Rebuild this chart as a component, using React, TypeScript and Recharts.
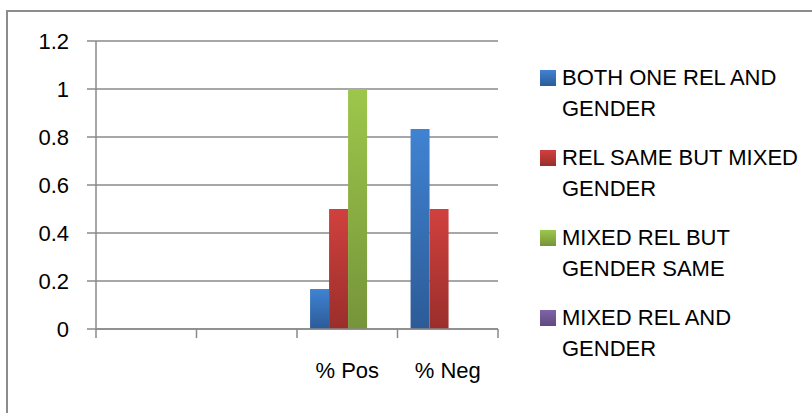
import * as React from "react";
import { Bar, BarChart, CartesianGrid, Legend, XAxis, YAxis } from "recharts";

const categories = ["", "", "% Pos", "% Neg"];
const seriesNames = [
  "BOTH ONE REL AND GENDER",
  "REL SAME BUT MIXED GENDER",
  "MIXED REL BUT GENDER SAME",
  "MIXED REL AND GENDER"
];
const bothOneRelAndGender = [null, null, 0.1667, 0.8333];
const relSameMixedGender = [null, null, 0.5, 0.5];
const mixedRelGenderSame = [null, null, 1, 0];
const mixedRelAndGender = [null, null, 0, 0];
const yTicks = [0, 0.2, 0.4, 0.6, 0.8, 1, 1.2];
// category boundaries, in units of category index
const edgeTicks = [-0.5, 0.5, 1.5, 2.5, 3.5];

const topColors = ["#4083d2", "#d0413e", "#9dc74b", "#8064a7"];
const bottomColors = ["#2c5b97", "#9a2e2b", "#76943a", "#5e4a80"];

const FONT = "'Liberation Sans', Arial, sans-serif";
const GRID = "#8a8a8a";

const seriesValues = [bothOneRelAndGender, relSameMixedGender, mixedRelGenderSame, mixedRelAndGender];

const data = categories.map((name, i) => {
  const row: Record<string, string | number | null> = { name, slot: i };
  seriesValues.forEach((vals, s) => {
    row["s" + s] = vals[i];
  });
  return row;
});

const seriesIndex = (entry: any) => Number(String(entry.dataKey).slice(1));

function ChartLegend(props: any) {
  // keep the legend in series order, not alphabetical
  const items = [...(props.payload ?? [])].sort((a, b) => seriesIndex(a) - seriesIndex(b));
  return (
    <div style={{ fontFamily: FONT, fontSize: 22, color: "#000" }}>
      {items.map((entry: any) => {
        const s = seriesIndex(entry);
        return (
          <div key={s} style={{ display: "flex", alignItems: "flex-start", marginBottom: 18 }}>
            <div
              style={{
                width: 16,
                height: 16,
                marginTop: 8,
                marginRight: 6,
                flex: "none",
                background: `linear-gradient(${topColors[s]}, ${bottomColors[s]})`
              }}
            />
            <div style={{ width: 246, lineHeight: "31px" }}>{entry.value}</div>
          </div>
        );
      })}
    </div>
  );
}

export default function App() {
  return (
    <div
      style={{
        position: "fixed",
        left: 0,
        top: 0,
        width: 812,
        height: 413,
        overflow: "hidden",
        background: "#fff"
      }}
    >
      <div
        style={{
          position: "absolute",
          left: 6,
          top: 10,
          width: 900,
          height: 500,
          borderLeft: "2px solid #8c8c8c",
          borderTop: "2px solid #8c8c8c"
        }}
      />
      <div style={{ position: "absolute", left: 0, top: 0 }}>
        <BarChart
          width={812}
          height={413}
          data={data}
          margin={{ top: 41, right: 314, bottom: 14, left: 0 }}
          barCategoryGap="13%"
          barGap={0}
        >
          <defs>
            {topColors.map((c, i) => (
              <linearGradient key={i} id={"grad" + i} x1="0" y1="0" x2="0" y2="1">
                <stop offset="0%" stopColor={c} />
                <stop offset="100%" stopColor={bottomColors[i]} />
              </linearGradient>
            ))}
          </defs>
          <CartesianGrid vertical={false} stroke={GRID} strokeWidth={1.5} />
          {/* category boundary ticks, as Excel draws them */}
          <XAxis
            xAxisId="a"
            dataKey="slot"
            type="number"
            domain={[-0.5, 3.5]}
            allowDataOverflow
            ticks={edgeTicks}
            tick={() => <g />}
            tickSize={9}
            height={10}
            axisLine={{ stroke: GRID, strokeWidth: 1.5 }}
            tickLine={{ stroke: GRID, strokeWidth: 1.5 }}
          />
          <XAxis
            xAxisId="b"
            dataKey="name"
            height={60}
            axisLine={false}
            tickLine={false}
            tickSize={0}
            tickMargin={23}
            tick={{ fill: "#000", fontSize: 22, fontFamily: FONT }}
          />
          <YAxis
            domain={[0, 1.2]}
            ticks={yTicks}
            width={96}
            tickSize={9}
            tickMargin={18}
            tickFormatter={(v) => String(v)}
            axisLine={{ stroke: GRID, strokeWidth: 1.5 }}
            tickLine={{ stroke: GRID, strokeWidth: 1.5 }}
            tick={{ fill: "#000", fontSize: 22, fontFamily: FONT }}
          />
          <Legend
            layout="vertical"
            align="center"
            verticalAlign="middle"
            content={<ChartLegend />}
            wrapperStyle={{ left: 540, top: 62, width: 272 }}
          />
          {seriesNames.map((name, i) => (
            <Bar
              key={name}
              xAxisId="b"
              dataKey={"s" + i}
              name={name}
              fill={`url(#grad${i})`}
              isAnimationActive={false}
            />
          ))}
        </BarChart>
      </div>
    </div>
  );
}
